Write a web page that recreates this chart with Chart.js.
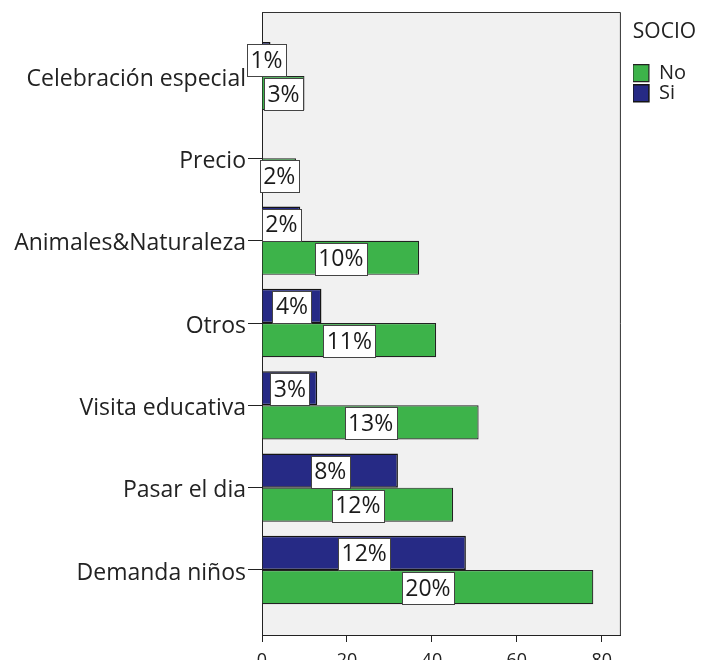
<!DOCTYPE html>
<html>
<head>
<meta charset="utf-8">
<script src="https://cdn.jsdelivr.net/npm/chart.js@4.4.1/dist/chart.umd.min.js"></script>
<style>
body{margin:0;background:#fff;overflow:hidden;}
#wrap{width:702px;height:660px;overflow:hidden;}
</style>
</head>
<body>
<div id="wrap"><canvas id="grafico" width="702" height="672"></canvas></div>
<script>
// Datos
const categorias=["Celebración especial","Precio","Animales&Naturaleza","Otros","Visita educativa","Pasar el dia","Demanda niños"];
const noValores=[10,8,37,41,51,45,78];
const siValores=[2,null,9,14,13,32,48];
const noPct=["3%","2%","10%","11%","13%","12%","20%"];
const siPct=["1%",null,"2%","4%","3%","8%","12%"];
const ticksX=[0,20,40,60,80];

const fuente="'Open Sans', sans-serif";
const verde="#3db34a";
const azul="#262a85";

// puntos {x,y} sin los valores vacíos
function puntos(valores){
  return valores.map((v,i)=>({x:v,y:i})).filter(p=>p.x!==null);
}

// Fondo y marco del área de gráfico
const fondoPlot={
  id:"fondoPlot",
  beforeDraw(chart){
    const {ctx,chartArea:a}=chart;
    ctx.save();
    ctx.fillStyle="#f1f1f1";
    ctx.fillRect(a.left,a.top,a.right-a.left,a.bottom-a.top);
    ctx.restore();
  },
  afterDraw(chart){
    const {ctx,chartArea:a}=chart;
    ctx.save();
    ctx.strokeStyle="#333";
    ctx.lineWidth=1;
    ctx.beginPath();
    ctx.moveTo(a.left,a.top+0.5);ctx.lineTo(a.right-0.5,a.top+0.5);ctx.lineTo(a.right-0.5,a.bottom);
    ctx.stroke();
    ctx.restore();
  }
};

// Etiquetas de porcentaje en cajas blancas
const etiquetas={
  id:"etiquetas",
  afterDatasetsDraw(chart){
    const ctx=chart.ctx;
    ctx.save();
    ctx.font="23px "+fuente;
    ctx.textAlign="center";
    ctx.textBaseline="middle";
    chart.data.datasets.forEach((ds,di)=>{
      const meta=chart.getDatasetMeta(di);
      meta.data.forEach((bar,j)=>{
        const txt=ds.pct[ds.data[j].y];
        if(!txt) return;
        const cx=(bar.x+bar.base)/2;
        const w=Math.round(ctx.measureText(txt).width+7);
        const h=Math.round(bar.height-2);
        const x0=Math.round(cx-w/2)+0.5,y0=Math.round(bar.y-h/2+1)+0.5;
        ctx.fillStyle="#fff";
        ctx.fillRect(x0,y0,w,h);
        ctx.strokeStyle="#444";
        ctx.lineWidth=1;
        ctx.strokeRect(x0,y0,w,h);
        ctx.fillStyle="#1a1a1a";
        ctx.fillText(txt,cx,bar.y+2);
      });
    });
    ctx.restore();
  }
};

new Chart(document.getElementById("grafico"),{
  type:"bar",
  data:{
    datasets:[
      {label:"Si",data:puntos(siValores),pct:siPct,backgroundColor:azul,borderColor:"#151515",borderWidth:1.5},
      {label:"No",data:puntos(noValores),pct:noPct,backgroundColor:verde,borderColor:"#222",borderWidth:1.2}
    ]
  },
  options:{
    responsive:false,
    animation:false,
    indexAxis:"y",
    categoryPercentage:0.83,
    barPercentage:1,
    layout:{padding:{top:12,left:0,right:6,bottom:0}},
    scales:{
      x:{
        type:"linear",min:0,max:84.5,
        afterBuildTicks(scale){scale.ticks=ticksX.map(v=>({value:v}));},
        afterFit(scale){scale.height=37;},
        ticks:{font:{family:fuente,size:18},color:"#222",padding:8,includeBounds:false},
        grid:{drawOnChartArea:false,tickLength:7,color:"#222"},
        border:{color:"#222",width:1}
      },
      y:{
        type:"linear",reverse:true,min:-0.778,max:6.79,offset:false,
        afterBuildTicks(scale){scale.ticks=categorias.map((c,i)=>({value:i}));},
        afterFit(scale){scale.width=262;scale.paddingTop=0;scale.paddingBottom=0;},
        ticks:{callback:v=>categorias[v],font:{family:fuente,size:23},color:"#222",padding:2,labelOffset:3,autoSkip:false},
        grid:{drawOnChartArea:false,offset:false,tickLength:14,color:"#222"},
        border:{color:"#222",width:1}
      },
      // eje vacío: solo deja un hueco entre el gráfico y la leyenda
      hueco:{
        type:"linear",axis:"y",position:"right",display:true,
        afterBuildTicks(scale){scale.ticks=[];},
        afterFit(scale){scale.width=12;scale.paddingTop=0;scale.paddingBottom=0;},
        ticks:{display:false},grid:{display:false},border:{display:false}
      }
    },
    plugins:{
      legend:{
        position:"right",align:"start",reverse:true,
        title:{display:true,text:"SOCIO",color:"#222",font:{family:fuente,size:21},padding:{top:10,bottom:16}},
        labels:{boxWidth:16,boxHeight:17,padding:0,color:"#222",font:{family:fuente,size:20}}
      },
      tooltip:{enabled:false}
    }
  },
  plugins:[fondoPlot,etiquetas]
});
</script>
</body>
</html>
